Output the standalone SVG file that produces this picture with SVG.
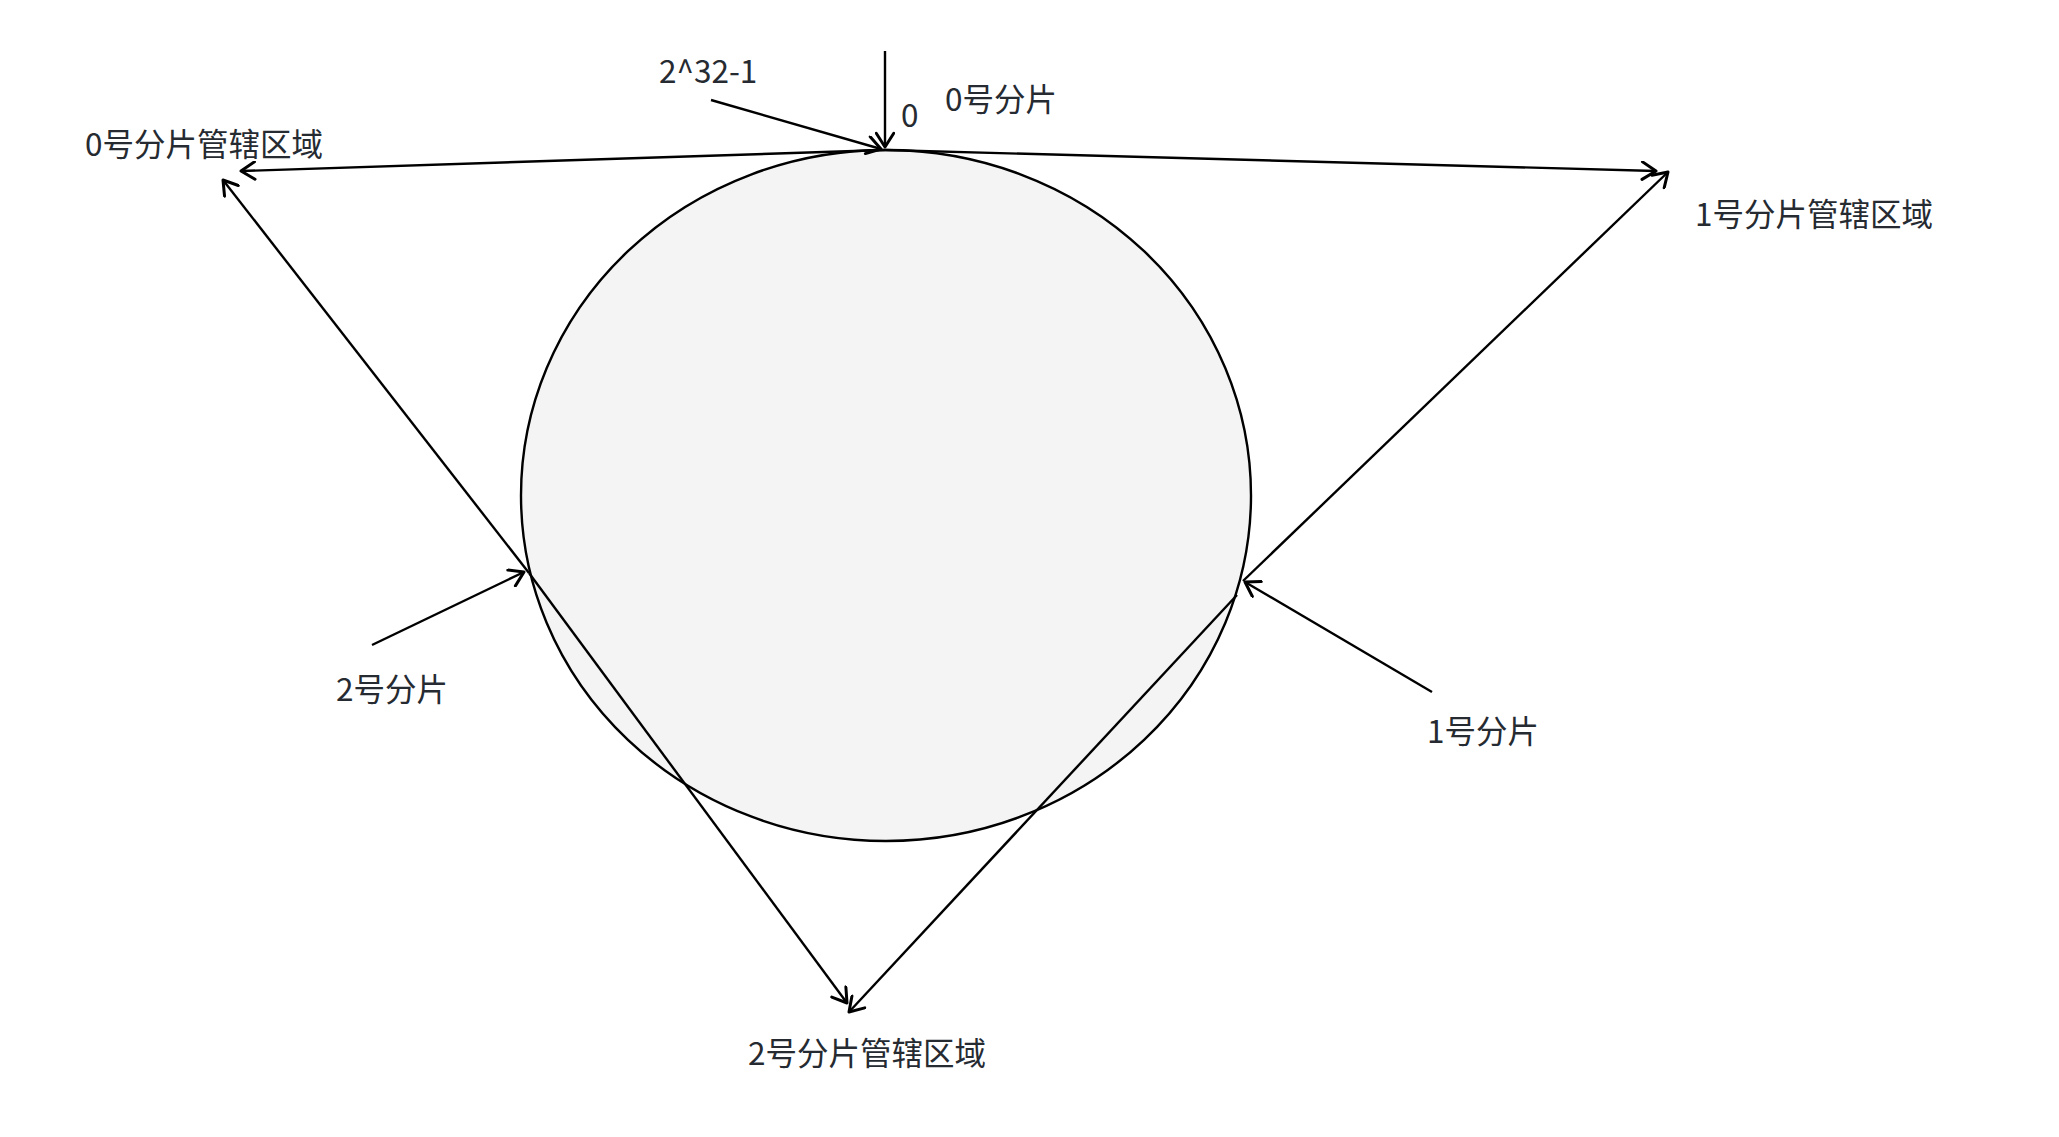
<svg xmlns="http://www.w3.org/2000/svg" width="2059" height="1137" viewBox="0 0 2059 1137">
<defs>
<marker id="arr" markerUnits="userSpaceOnUse" markerWidth="20" markerHeight="20" viewBox="-12 -8 14 16" refX="0" refY="0" orient="auto">
<path d="M-11,-7 L0,0 L-11,7" fill="none" stroke="#000" stroke-width="2.4" stroke-linecap="round" stroke-linejoin="round"/>
</marker>
</defs>
<style>
.lbl{font-family:"Noto Sans CJK SC","Noto Sans",sans-serif;font-size:31.5px;fill:#262a31}
.c{stroke:#000;stroke-width:2.4;fill:none;marker-end:url(#arr)}
</style>
<rect width="2059" height="1137" fill="#fff"/>
<g id="ring">
<ellipse cx="886" cy="495.5" rx="365" ry="345.5" fill="#f4f4f4" stroke="#000" stroke-width="2.4"/>
</g>
<g id="connectors">
<line class="c" x1="885" y1="51" x2="885" y2="147"/>
<line class="c" x1="711" y1="100" x2="881" y2="149"/>
<line class="c" x1="885" y1="150" x2="241" y2="171"/>
<line class="c" x1="885" y1="150" x2="1656" y2="171"/>
<line class="c" x1="529" y1="573" x2="223" y2="180"/>
<line class="c" x1="529" y1="573" x2="847" y2="1003"/>
<line class="c" x1="1243" y1="581" x2="1668" y2="172"/>
<line class="c" x1="1237" y1="595" x2="849" y2="1012"/>
<line class="c" x1="372" y1="645" x2="524" y2="572"/>
<line class="c" x1="1432" y1="692" x2="1245" y2="582"/>
</g>
<g id="label-max"><text class="lbl" x="659" y="83">2^32-1</text></g>
<g id="label-zero"><text class="lbl" x="901" y="127">0</text></g>
<g id="shard0"><text class="lbl" x="945" y="111">0号分片</text></g>
<g id="shard0-range"><text class="lbl" x="85" y="156">0号分片管辖区域</text></g>
<g id="shard1-range"><text class="lbl" x="1695" y="226">1号分片管辖区域</text></g>
<g id="shard2"><text class="lbl" x="336" y="701">2号分片</text></g>
<g id="shard1"><text class="lbl" x="1427" y="743">1号分片</text></g>
<g id="shard2-range"><text class="lbl" x="748" y="1065">2号分片管辖区域</text></g>
</svg>
